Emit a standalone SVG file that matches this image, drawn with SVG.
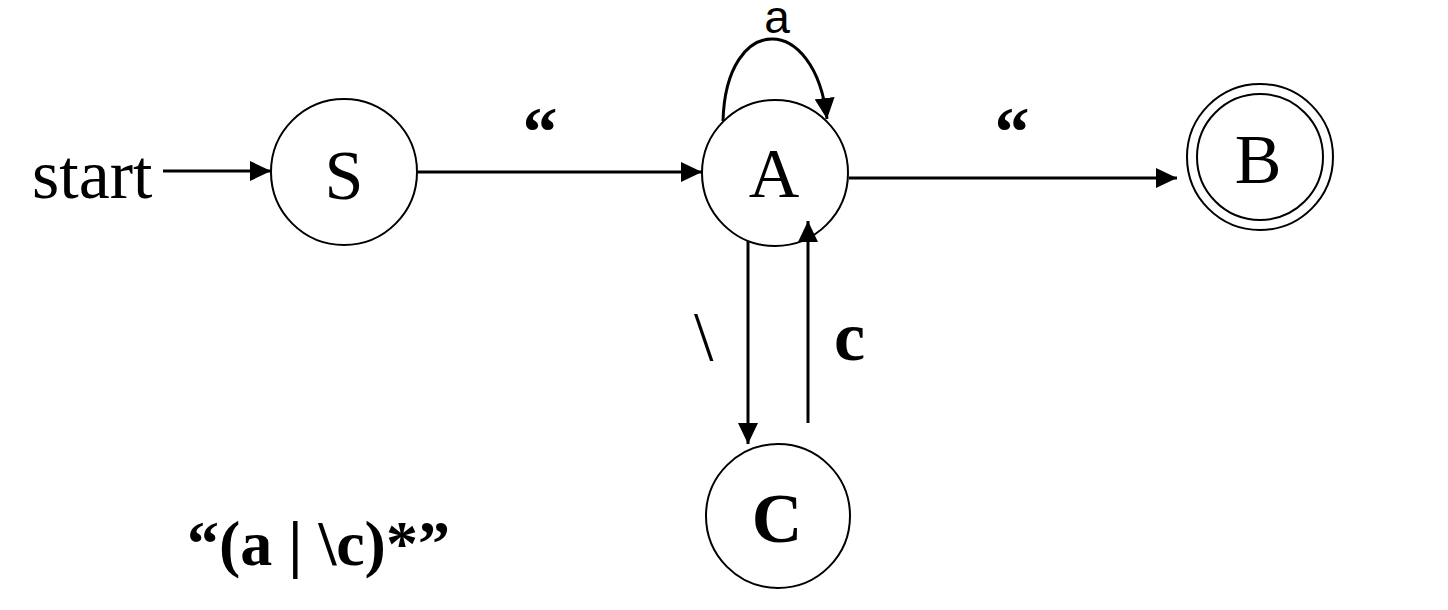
<svg xmlns="http://www.w3.org/2000/svg" width="1448" height="610" viewBox="0 0 1448 610">
<style>
.st{fill:#fff;stroke:#000;stroke-width:2}
.ln{fill:none;stroke:#000;stroke-width:3}
.t{font-family:"Liberation Serif","Times New Roman",serif;font-size:70px;fill:#000}
.b{font-weight:bold}
.sans{font-family:"Liberation Sans",Arial,sans-serif;font-size:46px;fill:#000}
</style>
<defs>
<marker id="ah" markerUnits="userSpaceOnUse" markerWidth="22" markerHeight="20" refX="21" refY="10" orient="auto">
<path d="M0,0 L21,10 L0,20 z" fill="#000"/>
</marker>
</defs>
<g id="nodes">
<g id="node-S"><circle class="st" cx="344" cy="172" r="73"/><text class="t" x="344" y="199" text-anchor="middle">S</text></g>
<g id="node-A"><circle class="st" cx="775" cy="173" r="73"/><text class="t" x="774" y="197" text-anchor="middle">A</text></g>
<g id="node-B"><circle class="st" cx="1260" cy="157" r="73"/><circle class="st" cx="1260" cy="157" r="63"/><text class="t" x="1258" y="183" text-anchor="middle">B</text></g>
<g id="node-C"><circle class="st" cx="778" cy="516" r="72"/><text class="t b" x="777" y="542" text-anchor="middle">C</text></g>
</g>
<g id="connectors">
<line class="ln" x1="163" y1="171" x2="271" y2="171" marker-end="url(#ah)"/>
<line class="ln" x1="418" y1="172" x2="702" y2="172" marker-end="url(#ah)"/>
<line class="ln" x1="849" y1="178" x2="1177" y2="178" marker-end="url(#ah)"/>
<path class="ln" d="M723,121 C726,12 815,12 827,119" marker-end="url(#ah)"/>
<line class="ln" x1="748" y1="241" x2="748" y2="444" marker-end="url(#ah)"/>
<line class="ln" x1="808" y1="423" x2="808" y2="221" marker-end="url(#ah)"/>
</g>
<g id="labels">
<text class="t" x="32" y="198">start</text>
<text class="t b" x="540" y="155" text-anchor="middle">“</text>
<text class="t b" x="1012" y="155" text-anchor="middle">“</text>
<text class="sans" x="777" y="33" text-anchor="middle">a</text>
<text class="t" x="694" y="360">\</text>
<text class="t b" x="834" y="360">c</text>
<text class="t b" x="187" y="565" style="font-size:64px">“(a | \c)*”</text>
</g>
</svg>
